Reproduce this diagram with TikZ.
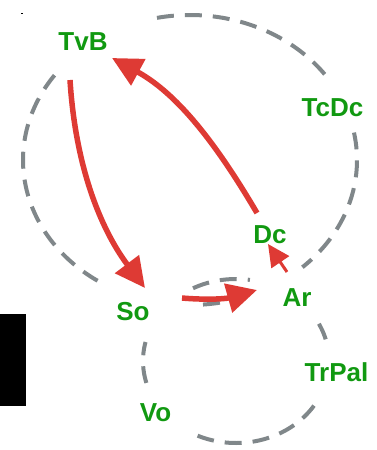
\documentclass[tikz,border=0pt]{standalone}
\usepackage{fontspec}
\setmainfont{Liberation Sans}
\usetikzlibrary{arrows.meta}
\definecolor{lblgreen}{RGB}{17,153,17}
\definecolor{edgered}{RGB}{222,58,52}
\definecolor{ringgray}{RGB}{128,135,138}
\begin{document}
\begin{tikzpicture}[x=1pt,y=-1pt,
  lbl/.style={text=lblgreen, font=\bfseries\fontsize{26}{30}\selectfont, inner sep=0pt, anchor=base},
  ring/.style={draw=ringgray, line width=4pt, dash pattern=on 17pt off 11pt},
  bigarrow/.style={draw=edgered, line width=5.5pt, -{Triangle[length=30pt,width=29pt]}},
  smallarrow/.style={draw=edgered, line width=3pt, -{Triangle[length=22pt,width=21pt]}}]
\useasboundingbox (0,0) rectangle (376,450);
% black bar and tiny mark
\fill[black] (0,314) rectangle (26,406);
\fill[black] (20.5,12.5) rectangle (23,14);
% big ring (TvB, TcDc, Ar, So)
\draw[ring] plot[domain=-101.4:-34.9,samples=60] ({190+167*cos(\x)},{160+145*sin(\x)});
\draw[ring] plot[domain=-10.9:47.7,samples=60] ({190+167*cos(\x)},{160+145*sin(\x)});
\draw[ring] plot[domain=70:89,samples=30] ({190+167*cos(\x)},{160+145*sin(\x)});
\draw[ring] plot[domain=123.6:218.4,samples=80] ({190+167*cos(\x)},{160+145*sin(\x)});
% small ring (So, Ar, TrPal, Vo)
\draw[ring] plot[domain=242.5:278.6,samples=30] ({236+93*cos(\x)},{361+82*sin(\x)});
\draw[ring] plot[domain=-27:-14,samples=20] ({236+93*cos(\x)},{361+82*sin(\x)});
\draw[ring] plot[domain=33:114.8,samples=60] ({236+93*cos(\x)},{361+82*sin(\x)});
\draw[ring] plot[domain=164.5:193.4,samples=30] ({236+93*cos(\x)},{361+82*sin(\x)});
% labels
\node[lbl] (TvB) at (83,50.5) {TvB};
\node[lbl] (TcDc) at (332.5,116.5) {TcDc};
\node[lbl] (Dc) at (270,243) {Dc};
\node[lbl] (Ar) at (297,306) {Ar};
\node[lbl] (So) at (133,320) {So};
\node[lbl] (TrPal) at (336.5,381) {TrPal};
\node[lbl] (Vo) at (155.5,421) {Vo};
% connector end points
\coordinate (TvBout) at (70,80);
\coordinate (Soin) at (145,288);
\coordinate (Dcout) at (257,213);
\coordinate (TvBin) at (112,58);
\coordinate (Soout) at (182,298);
\coordinate (Arin) at (257,290);
\coordinate (Arout) at (287,272);
\coordinate (Dcin) at (268,244);
% arrows
\draw[bigarrow] (TvBout) .. controls (76,175) and (105,235) .. (Soin);
\draw[bigarrow] (Dcout) .. controls (220,150) and (180,95) .. (TvBin);
\draw[bigarrow] (Soout) .. controls (205,300) and (225,299) .. (Arin);
\draw[smallarrow] (Arout) -- (Dcin);
\end{tikzpicture}
\end{document}
